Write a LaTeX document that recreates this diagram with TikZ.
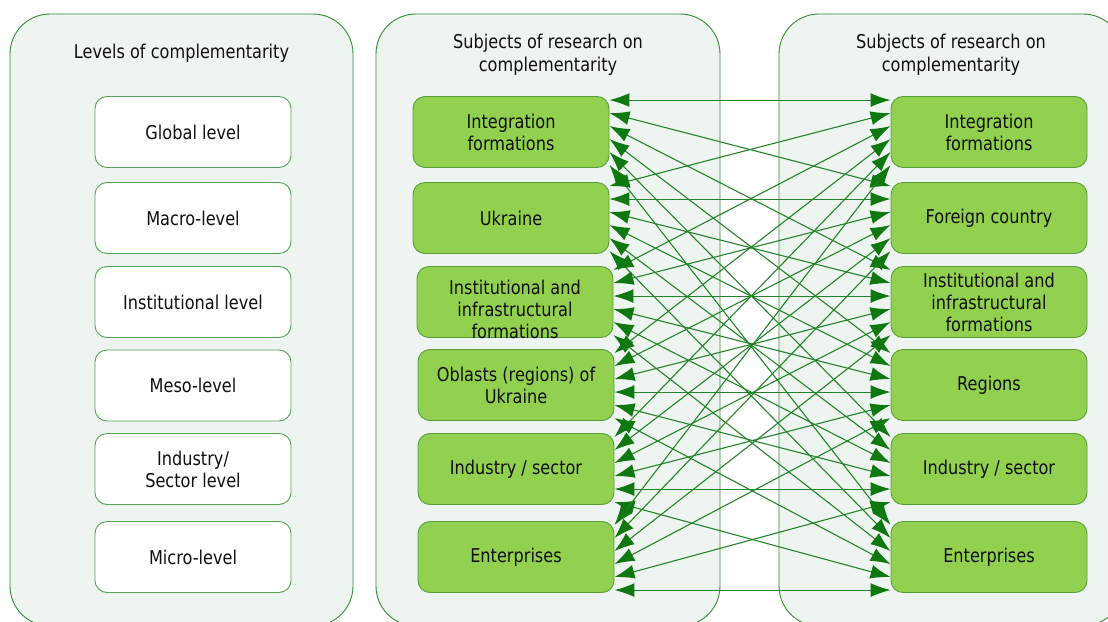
\documentclass[tikz,border=0pt]{standalone}
\usepackage{fontspec}
\setmainfont{DejaVu Sans}[FakeStretch=0.85]
\usetikzlibrary{arrows.meta,calc}

\definecolor{panelfill}{HTML}{EEF5F0}
\definecolor{panelline}{HTML}{348C34}
\definecolor{boxfill}{HTML}{92D050}
\definecolor{boxline}{HTML}{5A9E3A}
\definecolor{levelline}{HTML}{54A454}
\definecolor{linkgreen}{HTML}{24842A}
\definecolor{tipgreen}{HTML}{107810}
\definecolor{ink}{HTML}{101010}

\begin{document}
\begin{tikzpicture}[x=1pt,y=-1pt,
  panel/.style={draw=panelline,fill=panelfill,line width=0.9pt,rounded corners=40pt},
  boxtext/.style={align=center,font=\fontsize{19}{22}\selectfont,text=ink,inner sep=0pt},
  levelbox/.style={boxtext,draw=levelline,fill=white,line width=0.9pt,rounded corners=12pt,
    minimum width=196pt,minimum height=71pt},
  subjbox/.style={levelbox,draw=boxline,fill=boxfill},
  paneltitle/.style={align=center,font=\fontsize{19}{23}\selectfont,text=ink,inner sep=0pt},
  link/.style={draw=linkgreen,line width=1.1pt,
    {Latex[length=20pt,width=14pt,color=tipgreen]}-{Latex[length=20pt,width=14pt,color=tipgreen]}}
]
\clip (0,0) rectangle (1108,621);
\fill[white] (0,0) rectangle (1108,621);

% three panels, running past the lower edge
\draw[panel] (10,14) rectangle (353,626);
\draw[panel] (376,14) rectangle (720,626);
\draw[panel] (779,14) rectangle (1123,626);

\node[paneltitle] (tlev) at (181.5,53) {Levels of complementarity};
\node[paneltitle] (tsubl) at (548,55) {Subjects of research on\\complementarity};
\node[paneltitle] (tsubr) at (951,55) {Subjects of research on\\complementarity};

% levels of complementarity
\node[levelbox] (V1) at (193,132) {Global level};
\node[levelbox] (V2) at (193,218) {Macro-level};
\node[levelbox] (V3) at (193,302) {Institutional level};
\node[levelbox] (V4) at (193,385.5) {Meso-level};
\node[levelbox] (V5) at (193,469) {Industry/\\Sector level};
\node[levelbox] (V6) at (193,557) {Micro-level};

% subjects, home side
\node[subjbox] (L1) at (511,132) {Integration\\formations};
\node[subjbox] (L2) at (511,218) {Ukraine};
\node[subjbox] (L3) at (515,302) {};
\node[boxtext] (L3t) at ([yshift=-7pt]L3.center) {Institutional and\\infrastructural\\formations};
\node[subjbox] (L4) at (516,385) {Oblasts (regions) of\\Ukraine};
\node[subjbox] (L5) at (516,469) {Industry / sector};
\node[subjbox] (L6) at (516,557) {Enterprises};

% subjects, foreign side
\node[subjbox] (R1) at (989,132) {Integration\\formations};
\node[subjbox] (R2) at (989,218) {Foreign country};
\node[subjbox] (R3) at (989,302) {Institutional and\\infrastructural\\formations};
\node[subjbox] (R4) at (989,385) {Regions};
\node[subjbox] (R5) at (989,469) {Industry / sector};
\node[subjbox] (R6) at (989,557) {Enterprises};

% every subject is linked with every subject on the other side
\foreach \i in {1,...,6}{
  \foreach \j in {1,...,6}{
    \draw[link] ($(L\i.north east)+(0,{4+13*(\j-1)})$) -- ($(R\j.north west)+(0,{4+13*(\i-1)})$);
  }
}
\end{tikzpicture}
\end{document}
